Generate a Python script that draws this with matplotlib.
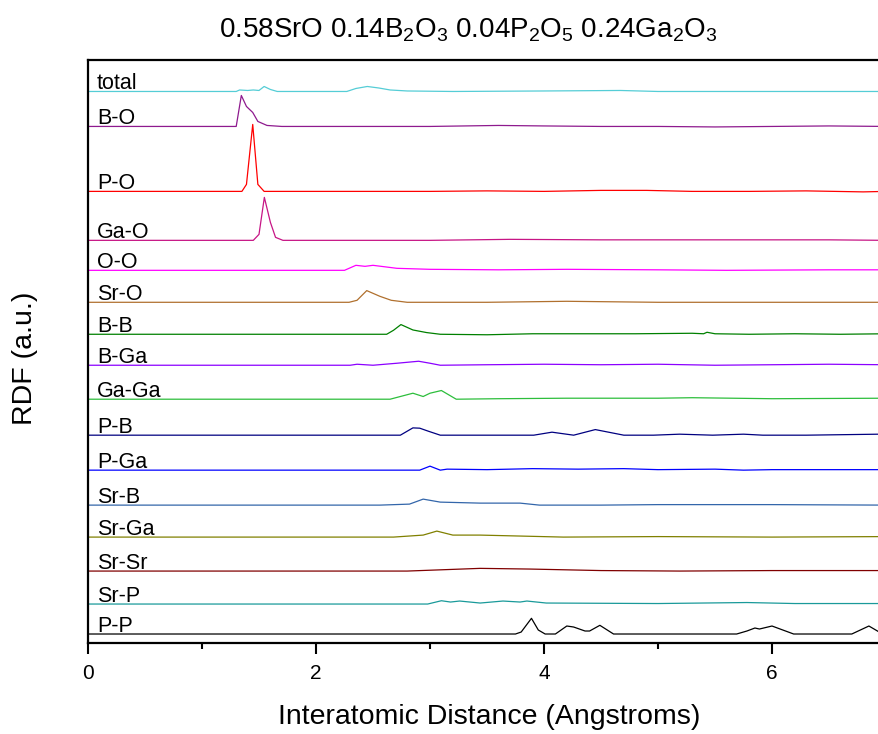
import matplotlib
matplotlib.use('Agg')
import matplotlib.pyplot as plt
from matplotlib.ticker import FixedLocator

plt.rcParams['font.family'] = ['Liberation Sans', 'DejaVu Sans']
plt.rcParams['mathtext.fontset'] = 'custom'
plt.rcParams['mathtext.rm'] = 'Liberation Sans'
plt.rcParams['mathtext.it'] = 'Liberation Sans'

# --- partial RDFs (r in Angstrom, g in a.u.) ---
r_total = [0, 1.30, 1.33, 1.40, 1.45, 1.50, 1.545, 1.60, 1.66, 2.27, 2.35, 2.45, 2.55, 2.65, 2.80, 3.2, 4.0, 4.67, 5.0, 7.0]
g_total = [0, 0, 0.15, 0.1, 0.15, 0.1, 0.5, 0.2, 0, 0, 0.3, 0.5, 0.35, 0.15, 0.05, 0, 0.05, 0.1, 0, 0]

r_BO = [0, 1.30, 1.345, 1.39, 1.445, 1.49, 1.57, 1.7, 2.0, 3.0, 3.6, 4.0, 4.5, 5.0, 5.5, 6.0, 6.5, 7.0]
g_BO = [0, 0, 3.1, 2.0, 1.4, 0.5, 0.1, 0, 0, 0, 0.1, 0.05, 0, 0, -0.05, 0, 0.05, 0]

r_PO = [0, 1.35, 1.39, 1.445, 1.49, 1.545, 2.0, 3.0, 3.5, 4.0, 4.5, 4.9, 5.3, 5.8, 6.3, 6.8, 7.0]
g_PO = [0, 0, 0.7, 6.7, 0.7, 0, 0, 0, 0.05, 0, 0.1, 0.1, 0, 0, 0.05, -0.05, 0]

r_GaO = [0, 1.45, 1.50, 1.547, 1.60, 1.645, 1.71, 3.0, 3.7, 4.5, 5.5, 6.5, 7.0]
g_GaO = [0, 0, 0.6, 4.3, 1.8, 0.3, 0, 0, 0.1, 0.05, 0.05, 0.05, 0]

r_OO = [0, 2.25, 2.35, 2.43, 2.50, 2.71, 3.0, 3.6, 4.2, 5.0, 5.6, 6.5, 7.0]
g_OO = [0, 0, 0.5, 0.4, 0.5, 0.2, 0.1, 0.05, 0.1, 0.05, 0, 0.05, 0.05]

r_SrO = [0, 2.29, 2.36, 2.445, 2.56, 2.66, 2.80, 3.5, 4.2, 5.0, 7.0]
g_SrO = [0, 0, 0.2, 1.17, 0.6, 0.2, 0, 0, 0.1, 0, 0]

r_BB = [0, 2.62, 2.68, 2.745, 2.85, 2.97, 3.09, 3.5, 3.9, 4.3, 4.8, 5.3, 5.4, 5.43, 5.5, 5.8, 6.2, 6.6, 7.0]
g_BB = [0, 0, 0.4, 0.97, 0.43, 0.17, 0, -0.05, 0.05, 0.05, 0.05, 0.1, 0.05, 0.2, 0.05, 0, 0.05, 0, 0.05]

r_BGa = [0, 2.30, 2.36, 2.50, 2.71, 2.90, 3.0, 3.09, 3.5, 4.0, 4.5, 5.0, 5.5, 6.0, 6.5, 7.0]
g_BGa = [0, 0, 0.1, 0, 0.2, 0.4, 0.2, 0, 0.05, 0.1, 0.05, 0.1, 0, 0.05, 0.1, 0.05]

r_GaGa = [0, 2.65, 2.85, 2.94, 3.0, 3.10, 3.23, 3.6, 4.2, 5.0, 5.3, 6.0, 7.0]
g_GaGa = [0, 0, 0.6, 0.27, 0.6, 0.87, 0, 0.05, 0.1, 0.1, 0.15, 0.05, 0.1]

r_PB = [0, 2.74, 2.85, 2.91, 2.985, 3.09, 3.91, 4.07, 4.26, 4.45, 4.70, 4.96, 5.19, 5.48, 5.75, 5.92, 6.3, 6.94, 7.0]
g_PB = [0, 0, 0.73, 0.7, 0.4, 0, 0, 0.3, 0, 0.56, 0, 0, 0.1, 0, 0.1, 0, 0, 0.1, 0.1]

r_PGa = [0, 2.91, 3.0, 3.09, 3.15, 3.5, 3.9, 4.3, 4.7, 5.0, 5.5, 5.75, 6.0, 6.5, 7.0]
g_PGa = [0, 0, 0.4, 0, 0.1, 0.05, 0.15, 0.1, 0.15, 0.05, 0.1, 0, 0.05, 0.05, 0.05]

r_SrB = [0, 2.56, 2.82, 2.94, 3.09, 3.44, 3.79, 3.96, 4.5, 5.0, 5.5, 6.0, 7.0]
g_SrB = [0, 0, 0.1, 0.6, 0.3, 0.2, 0.2, 0, 0, 0.05, 0.05, 0.05, 0]

r_SrGa = [0, 2.68, 2.94, 3.06, 3.20, 3.44, 4.17, 5.0, 6.0, 7.0]
g_SrGa = [0, 0, 0.2, 0.6, 0.2, 0.2, 0, 0.05, 0, 0.05]

r_SrSr = [0, 2.80, 3.44, 3.88, 4.5, 5.19, 6.0, 7.0]
g_SrSr = [0, 0, 0.27, 0.2, 0.05, 0, 0.05, 0.05]

r_SrP = [0, 2.98, 3.10, 3.18, 3.26, 3.44, 3.64, 3.79, 3.85, 4.02, 5.0, 5.78, 6.2, 7.0]
g_SrP = [0, 0, 0.33, 0.2, 0.3, 0.1, 0.3, 0.2, 0.3, 0.1, 0.05, 0.15, 0.05, 0.05]

r_PP = [0, 3.75, 3.80, 3.89, 3.95, 4.01, 4.10, 4.20, 4.26, 4.36, 4.40, 4.49, 4.61,
        5.69, 5.78, 5.85, 5.89, 6.00, 6.19, 6.70, 6.85, 6.94, 7.0]
g_PP = [0, 0, 0.2, 1.57, 0.4, 0, 0, 0.8, 0.7, 0.3, 0.3, 0.87, 0,
        0, 0.3, 0.6, 0.5, 0.8, 0, 0, 0.8, 0.2, 0.1]

labels = ['total', 'B-O', 'P-O', 'Ga-O', 'O-O', 'Sr-O', 'B-B', 'B-Ga', 'Ga-Ga',
          'P-B', 'P-Ga', 'Sr-B', 'Sr-Ga', 'Sr-Sr', 'Sr-P', 'P-P']
r_list = [r_total, r_BO, r_PO, r_GaO, r_OO, r_SrO, r_BB, r_BGa, r_GaGa,
          r_PB, r_PGa, r_SrB, r_SrGa, r_SrSr, r_SrP, r_PP]
g_list = [g_total, g_BO, g_PO, g_GaO, g_OO, g_SrO, g_BB, g_BGa, g_GaGa,
          g_PB, g_PGa, g_SrB, g_SrGa, g_SrSr, g_SrP, g_PP]
# vertical shift of each curve
offsets = [55.2, 51.7, 45.2, 40.3, 37.3, 34.1, 30.9, 27.8, 24.4,
           20.8, 17.3, 13.8, 10.6, 7.2, 3.9, 0.9]
colors = ['#55CDD6', '#8E1A8E', '#FF0000', '#C71585', '#FF00FF', '#B0702E',
          '#008000', '#8B00FF', '#2DBE3C', '#000080', '#0000FF', '#3366AA',
          '#808000', '#800000', '#1A9A9A', '#000000']

fig = plt.figure(figsize=(8.79, 7.34), dpi=100)
ax = fig.add_axes([88 / 879, 91 / 734, 798 / 879, 583.5 / 734])

for lab, r, g, off, c in zip(labels, r_list, g_list, offsets, colors):
    ax.plot(r, [v + off for v in g], color=c, lw=0.9)
    ax.text(0.08, off + 0.2, lab, fontsize=15.5, color='black', va='baseline', ha='left')

ax.set_xlim(0, 7)
ax.set_ylim(0, 58.4)
ax.set_xticks([0, 2, 4, 6])
ax.set_xticklabels(['0', '2', '4', '6'], fontsize=15)
ax.xaxis.set_minor_locator(FixedLocator([1, 3, 5]))
ax.set_yticks([])
ax.tick_params(axis='x', which='major', direction='out', length=8, width=1.5, pad=7)
ax.tick_params(axis='x', which='minor', direction='out', length=4, width=1.5)
for s in ax.spines.values():
    s.set_linewidth(1.6)

fig.text(468 / 879, 1 - 37 / 734,
         r'0.58SrO 0.14B$_2$O$_3$ 0.04P$_2$O$_5$ 0.24Ga$_2$O$_3$',
         fontsize=20, ha='center', va='baseline')
fig.text(489 / 879, 1 - 724 / 734, 'Interatomic Distance (Angstroms)',
         fontsize=20.5, ha='center', va='baseline')
fig.text(25 / 879, 1 - 358 / 734, 'RDF (a.u.)', fontsize=20.5,
         rotation=90, ha='center', va='center')

fig.savefig('out.png', dpi=100)
